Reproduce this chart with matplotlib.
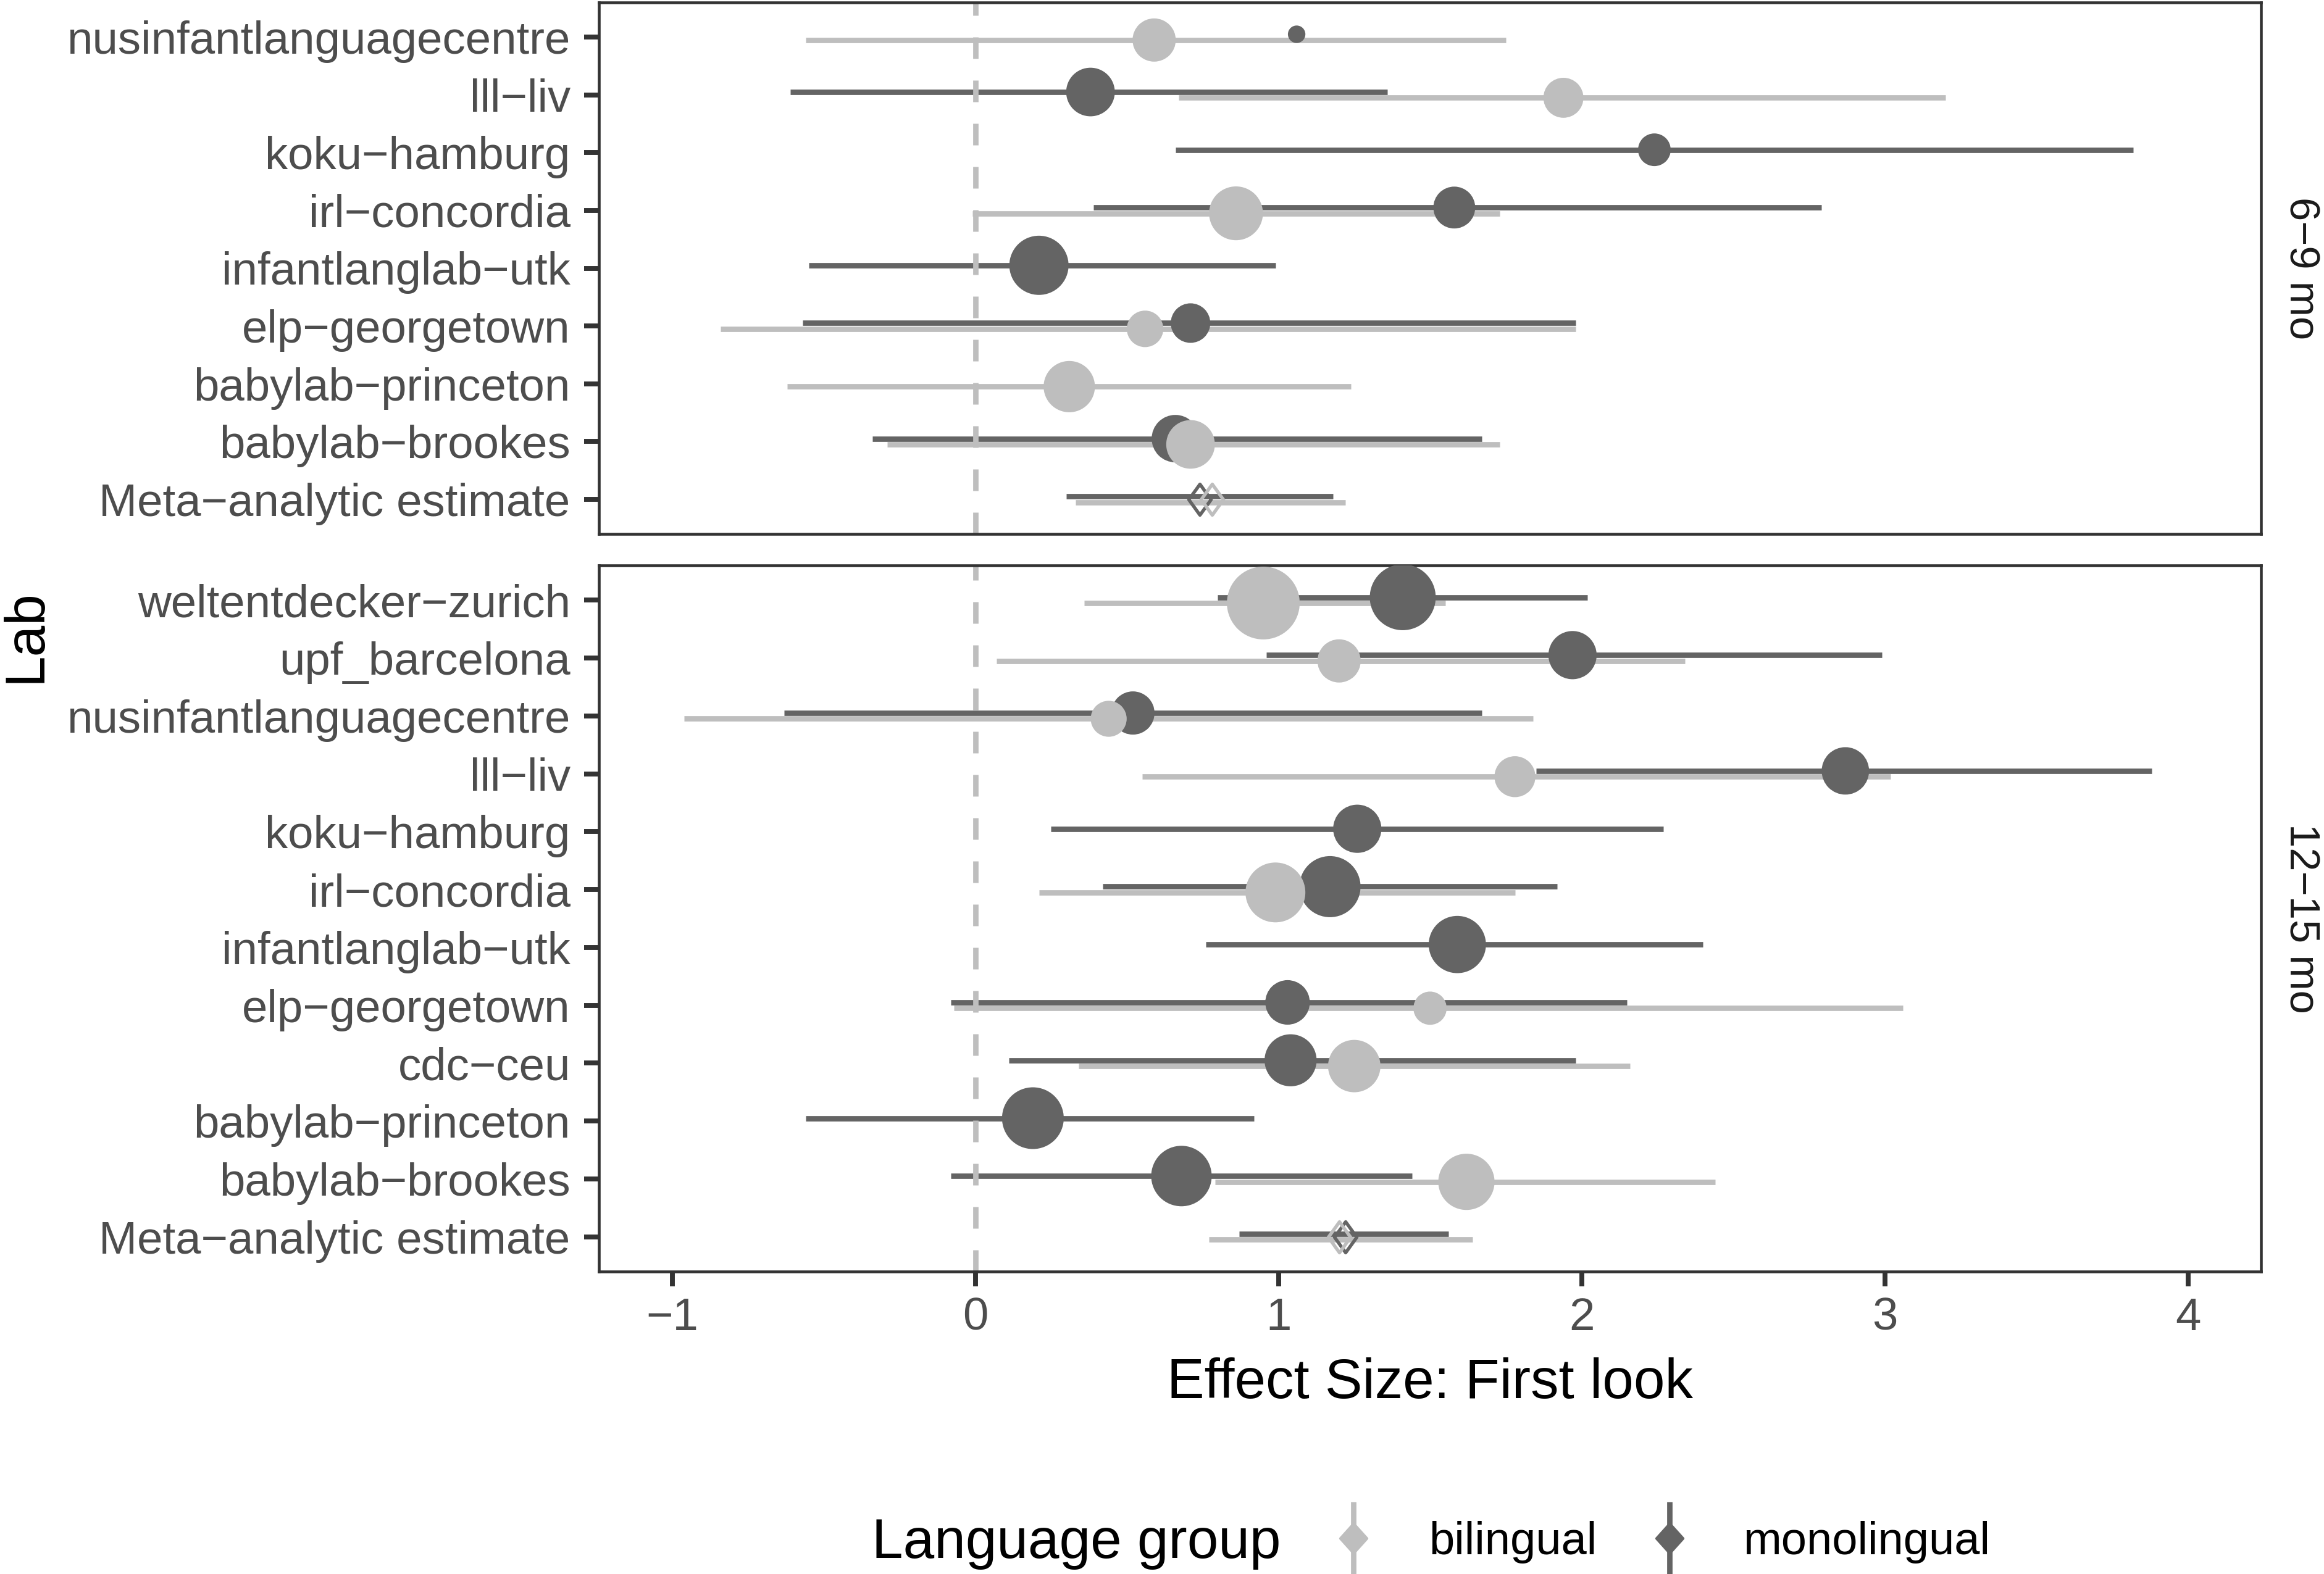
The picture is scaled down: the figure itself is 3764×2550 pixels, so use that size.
import matplotlib

matplotlib.use("Agg")
import matplotlib.pyplot as plt
import numpy as np
from matplotlib.lines import Line2D
from matplotlib.path import Path
from matplotlib.transforms import blended_transform_factory

plt.rcParams["font.family"] = ["Liberation Sans", "DejaVu Sans"]

nan = np.nan

# 6-9 mo panel, rows from top to bottom
labs_young = ["nusinfantlanguagecentre", "lll−liv", "koku−hamburg", "irl−concordia",
              "infantlanglab−utk", "elp−georgetown", "babylab−princeton",
              "babylab−brookes", "Meta−analytic estimate"]
mono_young_est = [1.06, 0.38, 2.24, 1.58, 0.21, 0.71, nan, 0.66, 0.74]
mono_young_lo = [1.05, -0.61, 0.66, 0.39, -0.55, -0.57, nan, -0.34, 0.30]
mono_young_hi = [1.07, 1.36, 3.82, 2.79, 0.99, 1.98, nan, 1.67, 1.18]
mono_young_weight = [8, 62, 28, 46, 92, 41, nan, 59, nan]
bi_young_est = [0.59, 1.94, nan, 0.86, nan, 0.56, 0.31, 0.71, 0.78]
bi_young_lo = [-0.56, 0.67, nan, -0.01, nan, -0.84, -0.62, -0.29, 0.33]
bi_young_hi = [1.75, 3.20, nan, 1.73, nan, 1.98, 1.24, 1.73, 1.22]
bi_young_weight = [49, 42, nan, 76, nan, 35, 69, 62, nan]

# 12-15 mo panel, rows from top to bottom
labs_old = ["weltentdecker−zurich", "upf_barcelona", "nusinfantlanguagecentre", "lll−liv",
            "koku−hamburg", "irl−concordia", "infantlanglab−utk", "elp−georgetown",
            "cdc−ceu", "babylab−princeton", "babylab−brookes", "Meta−analytic estimate"]
mono_old_est = [1.41, 1.97, 0.52, 2.87, 1.26, 1.17, 1.59, 1.03, 1.04, 0.19, 0.68, 1.22]
mono_old_lo = [0.80, 0.96, -0.63, 1.85, 0.25, 0.42, 0.76, -0.08, 0.11, -0.56, -0.08, 0.87]
mono_old_hi = [2.02, 2.99, 1.67, 3.88, 2.27, 1.92, 2.40, 2.15, 1.98, 0.92, 1.44, 1.56]
mono_old_weight = [114, 61, 49, 59, 61, 98, 86, 52, 71, 100, 96, nan]
bi_old_est = [0.95, 1.20, 0.44, 1.78, nan, 0.99, nan, 1.50, 1.25, nan, 1.62, 1.20]
bi_old_lo = [0.36, 0.07, -0.96, 0.55, nan, 0.21, nan, -0.07, 0.34, nan, 0.79, 0.77]
bi_old_hi = [1.55, 2.34, 1.84, 3.02, nan, 1.78, nan, 3.06, 2.16, nan, 2.44, 1.64]
bi_old_weight = [139, 49, 34, 44, nan, 94, nan, 29, 72, nan, 83, nan]

x_ticks = [-1, 0, 1, 2, 3, 4]

GROUP_COLORS = {"bilingual": "#BEBEBE", "monolingual": "#646464"}
DODGE = {"monolingual": 0.05, "bilingual": -0.05}
W, H = 3764, 2550

META_MARKER = Path([(0, 1), (0.72, 0), (0, -1), (-0.72, 0), (0, 1)],
                   [Path.MOVETO, Path.LINETO, Path.LINETO, Path.LINETO, Path.CLOSEPOLY])
KEY_MARKER = Path([(0, 1), (0.9, 0), (0, -1), (-0.9, 0), (0, 1)],
                  [Path.MOVETO, Path.LINETO, Path.LINETO, Path.LINETO, Path.CLOSEPOLY])


def box(left, top, right, bottom):
    return [left / W, 1 - bottom / H, (right - left) / W, (bottom - top) / H]


def draw_panel(ax, labs, groups, strip):
    n = len(labs)
    rows = n - np.arange(n, dtype=float)
    for name in ("monolingual", "bilingual"):
        est, lo, hi, _ = [np.asarray(v, dtype=float) for v in groups[name]]
        ok = ~np.isnan(lo)
        ax.hlines(rows[ok] + DODGE[name], lo[ok], hi[ok], colors=GROUP_COLORS[name],
                  linewidth=2.1, zorder=2)
    ax.axvline(0, color="#BEBEBE", linewidth=2.1, linestyle=(0, (4, 4)), zorder=2.5)
    for name in ("monolingual", "bilingual"):
        est, lo, hi, weight = [np.asarray(v, dtype=float) for v in groups[name]]
        ok = ~np.isnan(weight)
        ax.scatter(est[ok], rows[ok] + DODGE[name], s=weight[ok] * 5.76,
                   color=GROUP_COLORS[name], linewidths=0, zorder=3)
        ax.plot([est[-1]], [rows[-1]], marker=META_MARKER, markersize=12, linestyle="none",
                markerfacecolor="none", markeredgecolor=GROUP_COLORS[name],
                markeredgewidth=1.3, zorder=4)
    ax.set_ylim(0.4, n + 0.6)
    ax.set_xlim(-1.2415, 4.241)
    ax.set_yticks(rows)
    ax.set_yticklabels(labs)
    ax.set_xticks(x_ticks)
    for spine in ax.spines.values():
        spine.set_color("#333333")
        spine.set_linewidth(1.1)
    ax.tick_params(axis="both", length=5.8, width=1.9, color="#333333",
                   labelcolor="#4D4D4D", labelsize=17.9)
    ax.tick_params(axis="y", pad=5.3)
    ax.tick_params(axis="x", pad=4.0)
    strip_tf = blended_transform_factory(ax.figure.transFigure, ax.transAxes)
    ax.text(3708 / W, 0.5, strip, transform=strip_tf, rotation=-90, rotation_mode="anchor",
            ha="center", va="baseline", fontsize=16.5, color="#1A1A1A")


fig = plt.figure(figsize=(W / 300, H / 300), dpi=300)
ax_top = fig.add_axes(box(970, 4, 3662, 865))
ax_bot = fig.add_axes(box(970, 916, 3662, 2060))

draw_panel(ax_top, labs_young, {
    "monolingual": (mono_young_est, mono_young_lo, mono_young_hi, mono_young_weight),
    "bilingual": (bi_young_est, bi_young_lo, bi_young_hi, bi_young_weight),
}, "6−9 mo")
draw_panel(ax_bot, labs_old, {
    "monolingual": (mono_old_est, mono_old_lo, mono_old_hi, mono_old_weight),
    "bilingual": (bi_old_est, bi_old_lo, bi_old_hi, bi_old_weight),
}, "12−15 mo")
ax_top.tick_params(axis="x", bottom=False, labelbottom=False)

# axis titles
fig.text(2316 / W, 1 - 2265 / H, "Effect Size: First look", ha="center", va="baseline",
         fontsize=21.8, color="black")
fig.text(66 / W, 1 - 1030 / H, "Lab", rotation=90, rotation_mode="anchor",
         ha="center", va="baseline", fontsize=21.8, color="black")

# legend along the bottom
fig.text(1412 / W, 1 - 2524 / H, "Language group", ha="left", va="baseline",
         fontsize=21.8, color="black")
for name, key_x, text_x in (("bilingual", 2192, 2314), ("monolingual", 2704, 2823)):
    color = GROUP_COLORS[name]
    fig.add_artist(Line2D([key_x / W, key_x / W], [1 - 2433 / H, 1 - 2550 / H],
                          transform=fig.transFigure, color=color, linewidth=2.1,
                          solid_capstyle="butt"))
    fig.add_artist(Line2D([key_x / W], [1 - 2492 / H], transform=fig.transFigure,
                          marker=KEY_MARKER, markersize=11.5, color=color, linestyle="none"))
    fig.text(text_x / W, 1 - 2518 / H, name, ha="left", va="baseline",
             fontsize=17.8, color="black")

fig.savefig("out.png", dpi=300)
plt.close(fig)
